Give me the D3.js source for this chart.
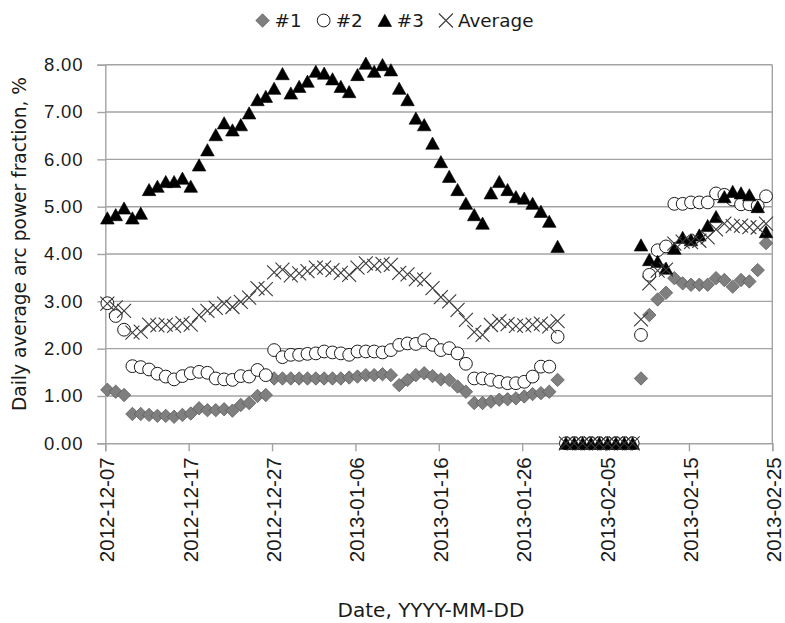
<!DOCTYPE html>
<html>
<head>
<meta charset="utf-8">
<script src="https://cdn.jsdelivr.net/npm/d3@7/dist/d3.min.js"></script>
<style>
  body { margin: 0; background: #fff; }
  svg { display: block; font-family: 'DejaVu Sans', sans-serif; }
</style>
</head>
<body>
<svg width="785" height="623"></svg>
<script>
// first date of the series, one value per day after that
const firstDay = '2012-12-07'
const tickLabels = ['2012-12-07', '2012-12-17', '2012-12-27', '2013-01-06', '2013-01-16',
  '2013-01-26', '2013-02-05', '2013-02-15', '2013-02-25']
const yTicks = [0, 1, 2, 3, 4, 5, 6, 7, 8]
const seriesNames = ['#1', '#2', '#3', 'Average']

const unit1 = [1.13, 1.09, 1.02, 0.62, 0.62, 0.60, 0.58, 0.58, 0.56, 0.60,
  0.63, 0.74, 0.70, 0.70, 0.72, 0.69, 0.81, 0.85, 1.00, 1.02,
  1.37, 1.37, 1.37, 1.37, 1.37, 1.37, 1.37, 1.37, 1.37, 1.39,
  1.41, 1.44, 1.44, 1.46, 1.44, 1.23, 1.34, 1.44, 1.48, 1.42,
  1.35, 1.34, 1.20, 1.09, 0.85, 0.85, 0.88, 0.92, 0.93, 0.95,
  0.99, 1.04, 1.06, 1.09, 1.34, 0, 0, 0, 0, 0,
  0, 0, 0, 0, 1.37, 2.71, 3.04, 3.18, 3.49, 3.38,
  3.35, 3.35, 3.35, 3.49, 3.45, 3.31, 3.45, 3.42, 3.66, 4.23]

const unit2 = [2.96, 2.69, 2.40, 1.63, 1.61, 1.56, 1.47, 1.41, 1.35, 1.42,
  1.48, 1.51, 1.49, 1.37, 1.35, 1.34, 1.42, 1.41, 1.55, 1.44,
  1.97, 1.82, 1.87, 1.87, 1.89, 1.90, 1.94, 1.92, 1.90, 1.87,
  1.94, 1.94, 1.94, 1.92, 1.97, 2.08, 2.11, 2.10, 2.18, 2.08,
  1.97, 2.01, 1.90, 1.68, 1.37, 1.37, 1.34, 1.30, 1.27, 1.27,
  1.30, 1.41, 1.62, 1.62, 2.25, 0, 0, 0, 0, 0,
  0, 0, 0, 0, 2.29, 3.56, 4.08, 4.16, 5.06, 5.06,
  5.09, 5.09, 5.09, 5.28, 5.25, 5.15, 5.05, 5.05, 5.02, 5.22]

const unit3 = [4.76, 4.83, 4.97, 4.76, 4.86, 5.36, 5.43, 5.53, 5.53, 5.60,
  5.43, 5.88, 6.20, 6.52, 6.77, 6.62, 6.73, 6.98, 7.26, 7.33,
  7.50, 7.81, 7.40, 7.54, 7.65, 7.86, 7.82, 7.70, 7.54, 7.43,
  7.79, 8.03, 7.86, 8.00, 7.89, 7.50, 7.26, 6.87, 6.73, 6.34,
  5.95, 5.64, 5.36, 5.07, 4.83, 4.65, 5.29, 5.53, 5.36, 5.21,
  5.18, 5.07, 4.90, 4.69, 4.16, 0, 0, 0, 0, 0,
  0, 0, 0, 0, 4.19, 3.88, 3.84, 3.70, 4.12, 4.35,
  4.30, 4.40, 4.60, 4.79, 5.21, 5.32, 5.29, 5.25, 5.00, 4.47]

const average = [2.95, 2.87, 2.80, 2.34, 2.36, 2.51, 2.49, 2.51, 2.48, 2.54,
  2.51, 2.71, 2.80, 2.86, 2.95, 2.88, 2.99, 3.08, 3.28, 3.26,
  3.61, 3.67, 3.55, 3.59, 3.64, 3.71, 3.71, 3.66, 3.60, 3.56,
  3.71, 3.80, 3.75, 3.79, 3.77, 3.60, 3.57, 3.47, 3.46, 3.28,
  3.09, 3.00, 2.82, 2.61, 2.35, 2.29, 2.50, 2.58, 2.52, 2.48,
  2.49, 2.51, 2.53, 2.47, 2.58, 0, 0, 0, 0, 0,
  0, 0, 0, 0, 2.62, 3.38, 3.65, 3.67, 4.22, 4.26,
  4.25, 4.28, 4.35, 4.52, 4.64, 4.59, 4.60, 4.57, 4.56, 4.64]

const svg = d3.select('svg')
const parseDate = d3.utcParse('%Y-%m-%d')
const plot = { left: 105.3, right: 772.3, top: 64.7, bottom: 443.3 }
const gridColor = '#a3a3a3'
const textColor = '#1a1a1a'

const x = d3.scaleUtc()
  .domain([parseDate(tickLabels[0]), parseDate(tickLabels[tickLabels.length - 1])])
  .range([plot.left, plot.right])

const y = d3.scaleLinear()
  .domain([0, 8])
  .range([plot.bottom, plot.top])

// points sit a little after midnight of their day
const dayX = i => x(d3.utcHour.offset(d3.utcDay.offset(parseDate(firstDay), i), 6))

// gridlines
svg.append('g')
  .selectAll('line')
  .data(yTicks.filter(d => d > 0))
  .enter().append('line')
  .attr('x1', plot.left)
  .attr('x2', plot.right)
  .attr('y1', d => y(d))
  .attr('y2', d => y(d))
  .attr('stroke', gridColor)
  .attr('stroke-width', 1.4)

// right border of plot area
svg.append('line')
  .attr('x1', plot.right).attr('x2', plot.right)
  .attr('y1', plot.top).attr('y2', plot.bottom)
  .attr('stroke', gridColor)
  .attr('stroke-width', 1.4)

const yAxis = svg.append('g')
  .attr('transform', `translate(${plot.left},0)`)
  .call(d3.axisLeft(y).tickValues(yTicks).tickFormat(d3.format('.2f')).tickSize(8).tickPadding(14))
yAxis.select('.domain').attr('stroke', gridColor).attr('stroke-width', 1.4)
yAxis.selectAll('.tick line').attr('stroke', gridColor).attr('stroke-width', 1.4)
yAxis.selectAll('.tick text')
  .attr('fill', textColor)
  .style('font-size', '18.5px')
  .style('letter-spacing', '0.8px')

const xAxis = svg.append('g')
  .attr('transform', `translate(0,${plot.bottom})`)
  .call(d3.axisBottom(x).tickValues(tickLabels.map(parseDate)).tickFormat(d3.utcFormat('%Y-%m-%d')).tickSize(8))
xAxis.select('.domain').attr('stroke', gridColor).attr('stroke-width', 1.4)
xAxis.selectAll('.tick line').attr('stroke', gridColor).attr('stroke-width', 1.4)
xAxis.selectAll('.tick text')
  .attr('fill', textColor)
  .style('font-size', '20.5px')
  .attr('text-anchor', 'end')
  .attr('transform', 'translate(8.5,14) rotate(-90)')
  .attr('x', 0)
  .attr('y', 0)
  .attr('dy', 0)

// markers
const markers = {
  '#1': g => g.append('path').attr('d', 'M0,-6.7L6.7,0L0,6.7L-6.7,0Z')
    .attr('fill', '#7f7f7f').attr('stroke', '#5c5c5c').attr('stroke-width', 0.8),
  '#2': g => g.append('circle').attr('r', 6.4)
    .attr('fill', '#fff').attr('stroke', '#1a1a1a').attr('stroke-width', 1),
  '#3': g => g.append('path').attr('d', 'M0,-6.2L6.8,6L-6.8,6Z')
    .attr('fill', '#000').attr('stroke', '#000').attr('stroke-width', 0.6),
  'Average': g => g.append('path').attr('d', 'M-7,-7L7,7M-7,7L7,-7')
    .attr('fill', 'none').attr('stroke', '#3a3a3a').attr('stroke-width', 1.1)
}

const seriesData = [unit1, unit2, unit3, average]

seriesNames.forEach((name, k) => {
  const g = svg.append('g')
  g.selectAll('g')
    .data(seriesData[k])
    .enter().append('g')
    .attr('transform', (d, i) => `translate(${dayX(i)},${y(d)})`)
    .each(function () { markers[name](d3.select(this)) })
})

// legend
const legend = svg.append('g')
let cursor = 0
seriesNames.forEach(name => {
  const item = legend.append('g')
  markers[name](item.append('g'))
  const label = item.append('text')
    .attr('x', 12)
    .attr('y', 6.5)
    .attr('fill', textColor)
    .style('font-size', '18.4px')
    .text(name)
  item.attr('transform', `translate(${cursor},0)`)
  cursor += 12 + label.node().getComputedTextLength() + 22
})
const legendWidth = cursor - 22 + 7
legend.attr('transform', `translate(${394.5 - legendWidth / 2 + 7},20.5)`)

// axis titles
svg.append('text')
  .attr('transform', 'translate(26,244) rotate(-90)')
  .attr('text-anchor', 'middle')
  .attr('fill', textColor)
  .style('font-size', '18.6px')
  .text('Daily average arc power fraction, %')

svg.append('text')
  .attr('x', 431)
  .attr('y', 617)
  .attr('text-anchor', 'middle')
  .attr('fill', textColor)
  .style('font-size', '20px')
  .text('Date, YYYY-MM-DD')
</script>
</body>
</html>
